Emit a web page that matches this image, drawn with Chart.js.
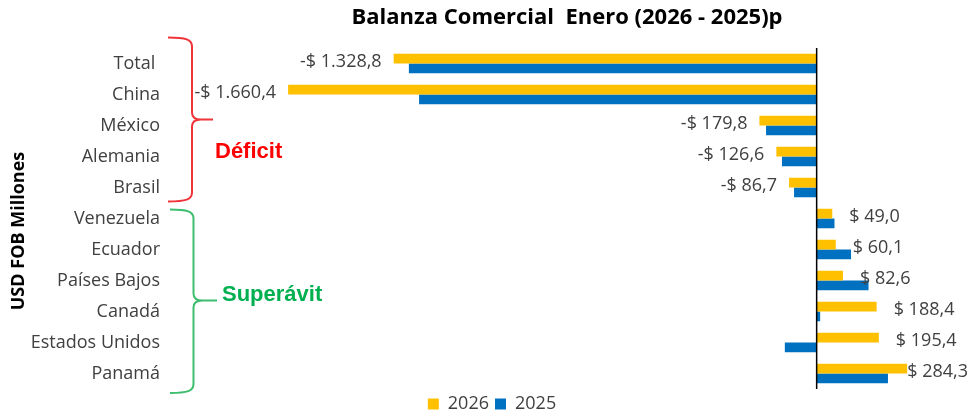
<!DOCTYPE html>
<html>
<head>
<meta charset="utf-8">
<script src="https://cdn.jsdelivr.net/npm/chart.js@4.4.1/dist/chart.umd.min.js"></script>
<style>
  html, body { margin: 0; padding: 0; background: #fff; overflow: hidden; }
  #wrap { width: 972px; height: 423px; }
</style>
</head>
<body>
<div id="wrap"><canvas id="balanza"></canvas></div>
<script>
// datos (USD FOB millones)
var paises = ["Total ", "China", "México", "Alemania", "Brasil", "Venezuela", "Ecuador", "Países Bajos", "Canadá", "Estados Unidos", "Panamá"];
var valores2026 = [-1328.8, -1660.4, -179.8, -126.6, -86.7, 49.0, 60.1, 82.6, 188.4, 195.4, 284.3];
var valores2025 = [-1281, -1249, -159, -109, -71, 56, 108, 163, 11, -100, 224];
var series = ["2026", "2025"];
var colores = ["#FFC000", "#0070C0"];

var fuente = "'Open Sans', 'Noto Sans', sans-serif";
var gris = "#404040";

let formato = (v) => {
    var partes = Math.abs(v).toFixed(1).split('.');
    var entero = partes[0].replace(/\B(?=(\d{3})+(?!\d))/g, ".");
    return (v < 0 ? "-" : "") + "$ " + entero + "," + partes[1];
};

function llave(ctx, x0, x1, punta, yTop, yMid, yBot, color) {
    ctx.strokeStyle = color;
    ctx.lineWidth = 2;
    ctx.beginPath();
    ctx.moveTo(x0, yTop);
    ctx.bezierCurveTo(x1 - 6, yTop, x1, yTop + 2, x1, yTop + 9);
    ctx.lineTo(x1, yMid - 7);
    ctx.quadraticCurveTo(x1, yMid, x1 + 9, yMid);
    ctx.lineTo(punta, yMid);
    ctx.moveTo(x1 + 9, yMid);
    ctx.quadraticCurveTo(x1, yMid, x1, yMid + 7);
    ctx.lineTo(x1, yBot - 9);
    ctx.bezierCurveTo(x1, yBot - 2, x1 - 6, yBot, x0, yBot);
    ctx.stroke();
}

var extras = {
    id: 'extras',
    afterDatasetsDraw: function(chart) {
        var ctx = chart.ctx;
        var area = chart.chartArea;
        var x0 = chart.scales.x.getPixelForValue(0);
        ctx.save();

        // eje en cero
        ctx.strokeStyle = "#000";
        ctx.lineWidth = 1.5;
        ctx.beginPath();
        ctx.moveTo(x0, area.top);
        ctx.lineTo(x0, area.bottom);
        ctx.stroke();

        // etiquetas 2026
        ctx.font = "18px " + fuente;
        ctx.fillStyle = gris;
        ctx.textBaseline = "middle";
        chart.getDatasetMeta(0).data.forEach(function(bar, i) {
            var v = valores2026[i];
            var txt = formato(v);
            if (v < 0) {
                ctx.textAlign = "right";
                ctx.fillText(txt, bar.x - 12, bar.y + 3);
            } else {
                var w = ctx.measureText(txt).width;
                var px = Math.min(bar.x + 17, chart.width - 4 - w);
                ctx.textAlign = "left";
                ctx.fillText(txt, px, bar.y + 3);
            }
        });

        // titulo
        ctx.font = "bold 22px " + fuente;
        ctx.fillStyle = "#000";
        ctx.textAlign = "center";
        ctx.fillText("Balanza Comercial  Enero (2026 - 2025)p", 567, 18);

        // titulo eje y
        ctx.save();
        ctx.translate(19, 231);
        ctx.rotate(-Math.PI / 2);
        ctx.font = "bold 18px " + fuente;
        ctx.fillText("USD FOB Millones", 0, 0);
        ctx.restore();

        // llaves
        llave(ctx, 168, 192, 213, 37.5, 119.5, 201.5, "#F0353A");
        llave(ctx, 170, 193.5, 217, 209.5, 300.5, 393, "#3DBE6E");

        ctx.font = "bold 22px 'Liberation Sans', Arial, sans-serif";
        ctx.textAlign = "left";
        ctx.fillStyle = "#FF0000";
        ctx.fillText("Déficit", 215, 152);
        ctx.fillStyle = "#00B050";
        ctx.fillText("Superávit", 222, 295);

        ctx.restore();
    }
};

var ctxB = document.getElementById("balanza").getContext('2d');
var grafico = new Chart(ctxB, {
    type: 'bar',
    data: {
        labels: paises,
        datasets: [{
            label: series[0],
            data: valores2026,
            backgroundColor: colores[0]
        }, {
            label: series[1],
            data: valores2025,
            backgroundColor: colores[1]
        }]
    },
    options: {
        indexAxis: 'y',
        responsive: true,
        maintainAspectRatio: false,
        animation: false,
        layout: {
            padding: { top: 48, right: 0, left: 12, bottom: 0 }
        },
        datasets: {
            bar: { categoryPercentage: 0.63, barPercentage: 1.0 }
        },
        scales: {
            x: {
                display: false,
                min: -2000,
                max: 488
            },
            y: {
                grid: { display: false, drawTicks: false },
                border: { display: false },
                ticks: {
                    padding: 20,
                    color: gris,
                    font: { family: fuente, size: 18 }
                },
                afterFit: function(scale) { scale.width = 168; }
            }
        },
        plugins: {
            title: { display: false },
            tooltip: { enabled: false },
            legend: {
                position: 'bottom',
                labels: {
                    boxWidth: 11,
                    boxHeight: 11,
                    padding: 6,
                    color: gris,
                    font: { family: fuente, size: 18 }
                }
            }
        }
    },
    plugins: [extras]
});
</script>
</body>
</html>
